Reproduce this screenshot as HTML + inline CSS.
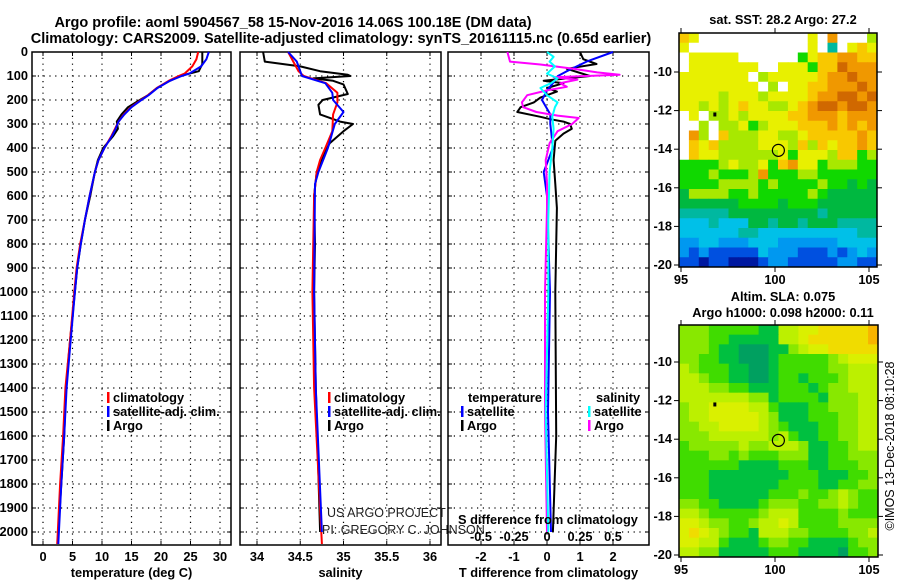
<!DOCTYPE html>
<html><head><meta charset="utf-8"><style>
html,body{margin:0;padding:0;background:#fff;}
svg{display:block;font-family:"Liberation Sans",Arial,sans-serif;}
.t{font-weight:bold;font-size:12.8px;fill:#000;}
</style></head><body>
<svg id="fig" width="900" height="580" viewBox="0 0 900 580" xmlns="http://www.w3.org/2000/svg">
<text x="293" y="27" text-anchor="middle" style="font-weight:bold;font-size:14.5px">Argo profile: aoml 5904567_58 15-Nov-2016 14.06S 100.18E (DM data)</text>
<text x="341" y="43" text-anchor="middle" style="font-weight:bold;font-size:14.5px">Climatology: CARS2009. Satellite-adjusted climatology: synTS_20161115.nc (0.65d earlier)</text>
<text x="783" y="24" text-anchor="middle" class="t">sat. SST: 28.2 Argo: 27.2</text>
<text x="783" y="301" text-anchor="middle" class="t">Altim. SLA: 0.075</text>
<text x="783" y="317" text-anchor="middle" class="t">Argo h1000: 0.098 h2000: 0.11</text>
<text transform="translate(894,446) rotate(-90)" text-anchor="middle" style="font-size:12.5px">©IMOS 13-Dec-2018 08:10:28</text>
<g id="plots"></g>
</svg>
<script>
// ---------- data ----------
const depthTick = [0,100,200,300,400,500,600,700,800,900,1000,1100,1200,1300,1400,1500,1600,1700,1800,1900,2000];
const tempTicks = [0,5,10,15,20,25,30];
const salTicks = [34,34.5,35,35.5,36];
const salTickLabels = ["34","34.5","35","35.5","36"];
const tdTicks = [-2,-1,0,1,2];
const sdTicks = [-0.5,-0.25,0,0.25,0.5];
const sdTickLabels = ["-0.5","-0.25","0","0.25","0.5"];

const tDepthArgo = [0,50,80,100,120,150,180,200,230,260,290,320,350,400,450,500,600,700,800,900,1000,1200,1400,1600,1800,2000];
const tArgo =      [27.0,27.0,26.4,23.2,21.5,19.3,17.8,16.4,14.4,13.3,12.5,12.7,11.9,10.2,9.3,8.8,8.0,7.1,6.4,5.8,5.4,4.6,3.9,3.6,3.1,2.6];
const tDepthClim = [0,30,60,90,100,120,150,180,200,230,260,290,320,350,400,450,500,600,700,800,900,1000,1200,1400,1600,1800,2000,2050];
const tClim =      [26.3,26.0,25.3,24.0,23.0,21.3,19.3,17.8,16.6,14.9,13.7,12.8,12.2,11.6,10.4,9.4,8.8,7.9,7.1,6.3,5.7,5.3,4.6,3.8,3.4,2.9,2.5,2.4];
const tSat =       [28.1,27.7,26.8,24.8,23.5,21.5,19.4,17.9,16.7,15.0,13.8,12.8,12.3,11.7,10.4,9.4,8.8,7.9,7.1,6.4,5.8,5.4,4.7,4.0,3.6,3.1,2.7,2.6];

const sDepthArgo = [0,40,60,80,95,100,110,120,135,175,200,220,260,290,300,330,380,430,500,600,800,1000,1400,2000];
const sArgo =      [34.07,34.09,34.5,34.73,35.05,35.08,34.65,34.88,35.0,35.05,34.76,34.71,34.73,34.96,35.11,35.0,34.84,34.77,34.69,34.66,34.67,34.66,34.68,34.73];
const sDepthClim = [0,40,80,100,130,170,210,260,330,400,450,500,600,1000,1400,2050];
const sClim =      [34.36,34.42,34.48,34.54,34.8,34.93,34.93,34.88,34.87,34.79,34.73,34.69,34.66,34.64,34.66,34.75];
const sDepthSat =  [0,40,100,130,170,200,250,300,400,500,550,1000,1400,2000];
const sSat =       [34.36,34.46,34.52,34.79,34.87,34.88,35.0,34.9,34.82,34.71,34.67,34.66,34.68,34.75];

const dDepthTArgo = [0,30,50,70,100,120,130,150,165,190,210,230,250,270,280,290,300,320,340,370,450,550,650,1000,1600,2000];
const dTArgo =      [1.0,1.1,1.5,0.6,1.3,-0.1,0.5,0.0,0.3,-0.2,-0.4,-0.8,-0.9,-0.2,0.1,0.5,0.7,0.75,0.5,0.25,0.2,0.25,0.3,0.25,0.28,0.18];
const dDepthTSat =  [0,40,80,100,130,160,200,260,300,400,500,600,1000,1500,2000];
const dTSat =       [2.0,1.2,0.6,0.33,0.18,0.0,-0.15,0.1,0.1,0.18,-0.1,0.0,0.09,0.03,0.12];
const dDepthSArgo = [0,40,52,70,85,95,105,115,130,145,160,180,210,230,250,265,275,300,330,380,450,550,650,1000,1500,2000];
const dSArgo =      [-0.3,-0.28,-0.05,0.2,0.38,0.55,0.05,0.23,0.1,0.15,0.0,-0.15,-0.19,-0.18,-0.08,0.08,0.24,0.19,0.08,0.02,-0.01,0.0,0.0,-0.015,-0.015,0.0];
const dDepthSSat =  [0,20,40,60,90,110,130,150,180,210,230,270,320,400,500,700,1000,1500,2000];
const dSSat =       [0.0,0.05,0.02,0.06,0.0,0.08,0.03,-0.05,0.0,0.08,0.06,0.04,0.05,0.04,0.02,0.01,0.01,-0.01,0.01];

const sstRows = [
"98wwwwwwwwwww8wawww7",
"8wwwwwwwwwwww8w4w898",
"w88888wwwwww6899aa99",
"w8888888ww888699baaa",
"8888888w7888889aabaa",
"88888888w7w8899aaaba",
"88887888788889aabbab",
"8878789887789abbabba",
"w8w7787888899aaa9aaa",
"ww7w77867888999a9a9a",
"wa7w97778877899999a9",
"w98977778887979899a9",
"w9887777778688879967",
"66667877869a88677766",
"66676667a66677666666",
"66667777676666766565",
"57777667666667655555",
"55555566665666555555",
"44444555555555455555",
"33343335545545554444",
"33333344333333333344",
"22332223332222223333",
"21211111322211121232",
"11011000122111112211"];
const sstColors = {"0":"#0018a0","1":"#0050e0","2":"#0098f0","3":"#00c0e8","4":"#00b8a0","5":"#00b840","6":"#10d800","7":"#a8e800","8":"#e8f000","9":"#f8c800","a":"#f09800","b":"#d06800","w":"#ffffff"};
const slaRows = [
"33322222114455666667",
"33322111114456666667",
"33321100011345566666",
"33221100012222234555",
"43222110012222233444",
"44322110012212223444",
"44433221112221233444",
"44444443312222133344",
"34455554421112233344",
"34455555431112223344",
"33445555432111223344",
"33344444434211223344",
"23333343344431122344",
"22233232223331122333",
"22222211112221122233",
"22211111111222111223",
"22211111112222112233",
"22211111122232234322",
"33221111233322334322",
"44322222344422223222",
"55433223445422223333",
"56543221444332222334",
"55442111233221111233",
"44331111122211110223"];
const slaColors = {"0":"#00a060","1":"#00c040","2":"#40dc00","3":"#88e800","4":"#bcf000","5":"#daf000","6":"#f0dc00","7":"#f8b400"};
const lonTicks = [95,100,105];
const latTicks = [-10,-12,-14,-16,-18,-20];
const floatLon = 100.18, floatLat = -14.06;
const prevLon = 96.8, prevLat = -12.2;

// ---------- helpers ----------
const NS = "http://www.w3.org/2000/svg";
const root = document.getElementById("plots");
function mk(tag, attrs, parent){ const e=document.createElementNS(NS,tag); for(const k in attrs) e.setAttribute(k,attrs[k]); (parent||root).appendChild(e); return e; }
const TOP=52, BOT=545;
const yD = d => TOP + d*0.24;
const xT = v => 43 + v*5.9;
const xS = v => 257 + (v-34)*86.5;
const xTD = v => 547 + v*33;
const xSD = v => 547 + v*132;

function panel(name, x0, x1, gx, xs, labels, title){
  const g = mk("g",{});
  
  
  depthTick.forEach(d=>{ if(d>0){ mk("line",{x1:x0,x2:x1,y1:yD(d),y2:yD(d),stroke:"#000","stroke-width":1.2,"stroke-dasharray":"1.2 4.6"},g);} });
  gx.forEach(v=>{ mk("line",{x1:xs(v),x2:xs(v),y1:TOP,y2:BOT,stroke:"#000","stroke-width":1.2,"stroke-dasharray":"1.2 4.6"},g);
    mk("line",{x1:xs(v),x2:xs(v),y1:TOP,y2:TOP+4,stroke:"#000"},g); mk("line",{x1:xs(v),x2:xs(v),y1:BOT,y2:BOT-4,stroke:"#000"},g);});
  depthTick.forEach(d=>{ mk("line",{x1:x0,x2:x0+4,y1:yD(d),y2:yD(d),stroke:"#000"},g); mk("line",{x1:x1,x2:x1-4,y1:yD(d),y2:yD(d),stroke:"#000"},g); });
  mk("rect",{x:x0,y:TOP,width:x1-x0,height:BOT-TOP,fill:"none",stroke:"#000","stroke-width":1.5},g);
  if(labels){ gx.forEach((v,i)=>{ const t=mk("text",{x:xs(v),y:561,"text-anchor":"middle",class:"t"},g); t.textContent=labels[i];
      }); }
  const tt=mk("text",{x:(x0+x1)/2,y:577,"text-anchor":"middle",class:"t"},g); tt.textContent=title;
  
  
  return g;
}
function line(g, depths, vals, xs, color, name, w){
  const pts = depths.map((d,i)=>xs(vals[i]).toFixed(1)+","+yD(d).toFixed(1)).join(" ");
  const p = mk("polyline",{points:pts,fill:"none",stroke:color,"stroke-width":w||2,"stroke-linejoin":"round"},g);
  
  
}
function legend(g, x, y, color, label, name){
  mk("rect",{x:x,y:y-10,width:2.5,height:11,fill:color},g);
  const t = mk("text",{x:x+6,y:y,class:"t"},g); t.textContent=label;
  
  
}

depthTick.forEach(d=>{ const t=mk("text",{x:28,y:yD(d)+4,"text-anchor":"end",class:"t"}); t.textContent=d;
    });

const p1 = panel("temperature-panel",32,231,tempTicks,xT,tempTicks.map(String),"temperature (deg C)");
line(p1,tDepthArgo,tArgo,xT,"#000","temp-argo-line");
line(p1,tDepthClim,tClim,xT,"#ff0000","temp-climatology-line");
line(p1,tDepthClim,tSat,xT,"#0000ff","temp-satellite-line");
legend(p1,107,402,"#ff0000","climatology","legend-climatology");
legend(p1,107,416,"#0000ff","satellite-adj. clim.","legend-satellite-adj");
legend(p1,107,430,"#000","Argo","legend-argo");

const p2 = panel("salinity-panel",240,441,salTicks,xS,salTickLabels,"salinity");
line(p2,sDepthArgo,sArgo,xS,"#000","sal-argo-line");
line(p2,sDepthClim,sClim,xS,"#ff0000","sal-climatology-line");
line(p2,sDepthSat,sSat,xS,"#0000ff","sal-satellite-line");
legend(p2,328,402,"#ff0000","climatology","legend-climatology");
legend(p2,328,416,"#0000ff","satellite-adj. clim.","legend-satellite-adj");
legend(p2,328,430,"#000","Argo","legend-argo");
[["US ARGO PROJECT",327,517,"project-credit"],["PI: GREGORY C. JOHNSON",322,534,"pi-credit"]].forEach(a=>{
  const t=mk("text",{x:a[1],y:a[2],style:"font-size:12.5px;fill:#222"},p2); t.textContent=a[0];
    });

const p3 = panel("difference-panel",448,649,tdTicks,xTD,tdTicks.map(String),"T difference from climatology");
line(p3,dDepthTArgo,dTArgo,xTD,"#000","tdiff-argo-line");
line(p3,dDepthTSat,dTSat,xTD,"#0000ff","tdiff-satellite-line");
line(p3,dDepthSArgo,dSArgo,xSD,"#ff00ff","sdiff-argo-line");
line(p3,dDepthSSat,dSSat,xSD,"#00ffff","sdiff-satellite-line");
[["temperature",468,402,"legend-temperature-header"],["salinity",596,402,"legend-salinity-header"]].forEach(a=>{
  const t=mk("text",{x:a[1],y:a[2],class:"t"},p3); t.textContent=a[0];
    });
legend(p3,461,416,"#0000ff","satellite","legend-t-satellite");
legend(p3,461,430,"#000","Argo","legend-t-argo");
legend(p3,588,416,"#00ffff","satellite","legend-s-satellite");
legend(p3,588,430,"#ff00ff","Argo","legend-s-argo");
{ const t=mk("text",{x:458,y:524,class:"t"},p3); t.textContent="S difference from climatology";
    }
sdTicks.forEach((v,i)=>{ const t=mk("text",{x:xSD(v),y:541,"text-anchor":"middle",class:"t"},p3); t.textContent=sdTickLabels[i];
    });

function map(name, rows, colors, left, right, top, bottom, lat10y, latPx, labelsX){
  const g = mk("g",{});
  
  
  const lon = v => 681 + (v-95)*18.8;
  const lat = v => lat10y + (-10 - v)*latPx;
  const nr=rows.length, nc=rows[0].length, cw=(right-left)/nc, ch=(bottom-top)/nr;
  rows.forEach((r,i)=>{ for(let j=0;j<nc;j++){
    const c = mk("rect",{x:(left+j*cw).toFixed(2),y:(top+i*ch).toFixed(2),width:(cw+0.5).toFixed(2),height:(ch+0.5).toFixed(2),fill:colors[r[j]]},g);
    
    
  }});
  mk("rect",{x:left,y:top,width:right-left,height:bottom-top,fill:"none",stroke:"#000","stroke-width":1.5},g);
  lonTicks.forEach(v=>{ mk("line",{x1:lon(v),x2:lon(v),y1:bottom,y2:bottom+5,stroke:"#000"},g); mk("line",{x1:lon(v),x2:lon(v),y1:top,y2:top-5,stroke:"#000"},g);
    if(labelsX){ const t=mk("text",{x:lon(v),y:bottom+17,"text-anchor":"middle",class:"t"},g); t.textContent=v;
        } });
  latTicks.forEach(v=>{ mk("line",{x1:left,x2:left-5,y1:lat(v),y2:lat(v),stroke:"#000"},g); mk("line",{x1:right,x2:right+5,y1:lat(v),y2:lat(v),stroke:"#000"},g);
    const t=mk("text",{x:left-7,y:lat(v)+4,"text-anchor":"end",class:"t"},g); t.textContent=v;
      });
  const c = mk("circle",{cx:lon(floatLon),cy:lat(floatLat),r:6,fill:"none",stroke:"#000","stroke-width":1.2},g);
  
  
  const d = mk("rect",{x:lon(prevLon)-1.5,y:lat(prevLat)-2,width:3,height:4,fill:"#000"},g);
  
  
}
map("sst-map", sstRows, sstColors, 679, 877, 33, 267, 72, 19.3, true);
map("sla-map", slaRows, slaColors, 679, 878, 325, 557, 362, 19.3, true);
</script>
</body></html>
